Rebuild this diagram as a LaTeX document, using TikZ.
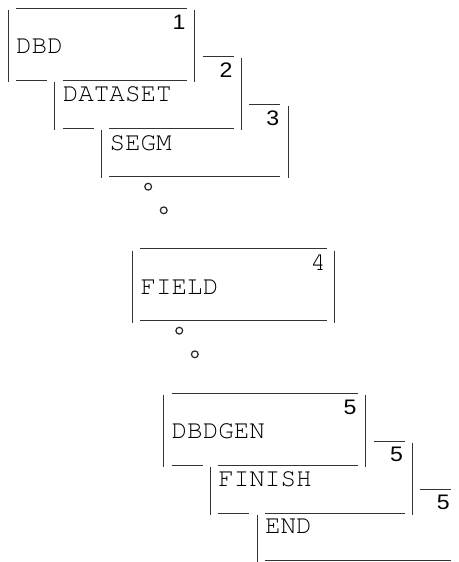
\documentclass[tikz,border=0pt]{standalone}
\usepackage[T1,TU]{fontenc}
\usepackage{fontspec}
\newfontfamily\digitfont[FakeStretch=1.1]{Liberation Sans}
% Courier (URW Nimbus Mono) for the listing text
\newcommand{\courierfont}{\fontencoding{T1}\fontfamily{pcr}\fontseries{m}\fontshape{n}\selectfont}
% character grid: column pitch and row pitch of the listing
\newcommand{\cx}[1]{0.45+15.55*(#1)}
\newcommand{\ry}[1]{10+24.06*(#1)}
% underscore run from column a to column b on row boundary k
\newcommand{\hseg}[3]{\draw[rule] ({\cx{#1}},{\ry{#3}-2}) -- ({\cx{#2+1}},{\ry{#3}-2});}
% vertical bar in column c from row boundary k1 to k2
\newcommand{\vseg}[3]{\draw[rule] ({\cx{#1+0.5}},{\ry{#2}}) -- ({\cx{#1+0.5}},{\ry{#3}});}
\begin{document}
\begin{tikzpicture}[x=1pt,y=-1pt,
  rule/.style={line width=0.9pt,draw=black!80},
  txt/.style={anchor=base west,inner sep=0pt,font=\fontsize{25.9}{26}\courierfont},
  num/.style={anchor=base east,inner sep=0pt,font=\digitfont\fontsize{21}{22}\selectfont},
  monum/.style={anchor=base east,inner sep=0pt,font=\fontsize{25.9}{26}\courierfont},
  dot/.style={line width=1.2pt,draw=black!85}]
\useasboundingbox (0,0) rectangle (458,562);

% DBD / DATASET / SEGM
\hseg{1}{11}{0}
\vseg{0}{0}{3}
\vseg{12}{0}{3}
\node[txt] (dbd) at ({\cx{1}},{\ry{2}-4.3}) {DBD};
\node[num] (n1) at ({\cx{12}-1.5},{\ry{1}-4.6}) {1};
\hseg{1}{2}{3}
\hseg{4}{11}{3}
\hseg{13}{14}{2}
\node[num] (n2) at ({\cx{15}-1},{\ry{3}-4.6}) {2};
\vseg{3}{3}{5}
\vseg{15}{2}{5}
\node[txt] (dataset) at ({\cx{4}},{\ry{4}-4.3}) {DATASET};
\hseg{4}{5}{5}
\hseg{7}{14}{5}
\hseg{16}{17}{4}
\node[num] (n3) at ({\cx{18}-1},{\ry{5}-4.6}) {3};
\vseg{6}{5}{7}
\vseg{18}{4}{7}
\node[txt] (segm) at ({\cx{7}},{\ry{6}-4.3}) {SEGM};
\hseg{7}{17}{7}

% continuation marks
\draw[dot] ({\cx{9.5}},186.7) circle (3.4);
\draw[dot] ({\cx{10.5}},210.3) circle (3.4);

% FIELD
\hseg{9}{20}{10}
\vseg{8}{10}{13}
\vseg{21}{10}{13}
\node[monum] (n4) at ({\cx{21}-1},{\ry{11}-4.6}) {4};
\node[txt] (field) at ({\cx{9}},{\ry{12}-4.3}) {FIELD};
\hseg{9}{20}{13}

\draw[dot] ({\cx{11.5}},330.7) circle (3.4);
\draw[dot] ({\cx{12.5}},354.3) circle (3.4);

% DBDGEN / FINISH / END
\hseg{11}{22}{16}
\vseg{10}{16}{19}
\vseg{23}{16}{19}
\node[num] (n5a) at ({\cx{23}-1.5},{\ry{17}-5}) {5};
\node[txt] (dbdgen) at ({\cx{11}},{\ry{18}-4.3}) {DBDGEN};
\hseg{11}{12}{19}
\hseg{14}{22}{19}
\hseg{24}{25}{18}
\node[num] (n5b) at ({\cx{26}-1.5},{\ry{19}-5.5}) {5};
\vseg{13}{19}{21}
\vseg{26}{18}{21}
\node[txt] (finish) at ({\cx{14}},{\ry{20}-4.8}) {FINISH};
\hseg{14}{15}{21}
\hseg{17}{25}{21}
\hseg{27}{28}{20}
\node[num] (n5c) at ({\cx{29}-1.5},{\ry{21}-5.5}) {5};
\vseg{16}{21}{23.1}
\node[txt] (end) at ({\cx{17}},{\ry{22}-5.5}) {END};
\draw[rule] ({\cx{17}},560.5) -- ({\cx{29}},560.5);
\end{tikzpicture}
\end{document}
